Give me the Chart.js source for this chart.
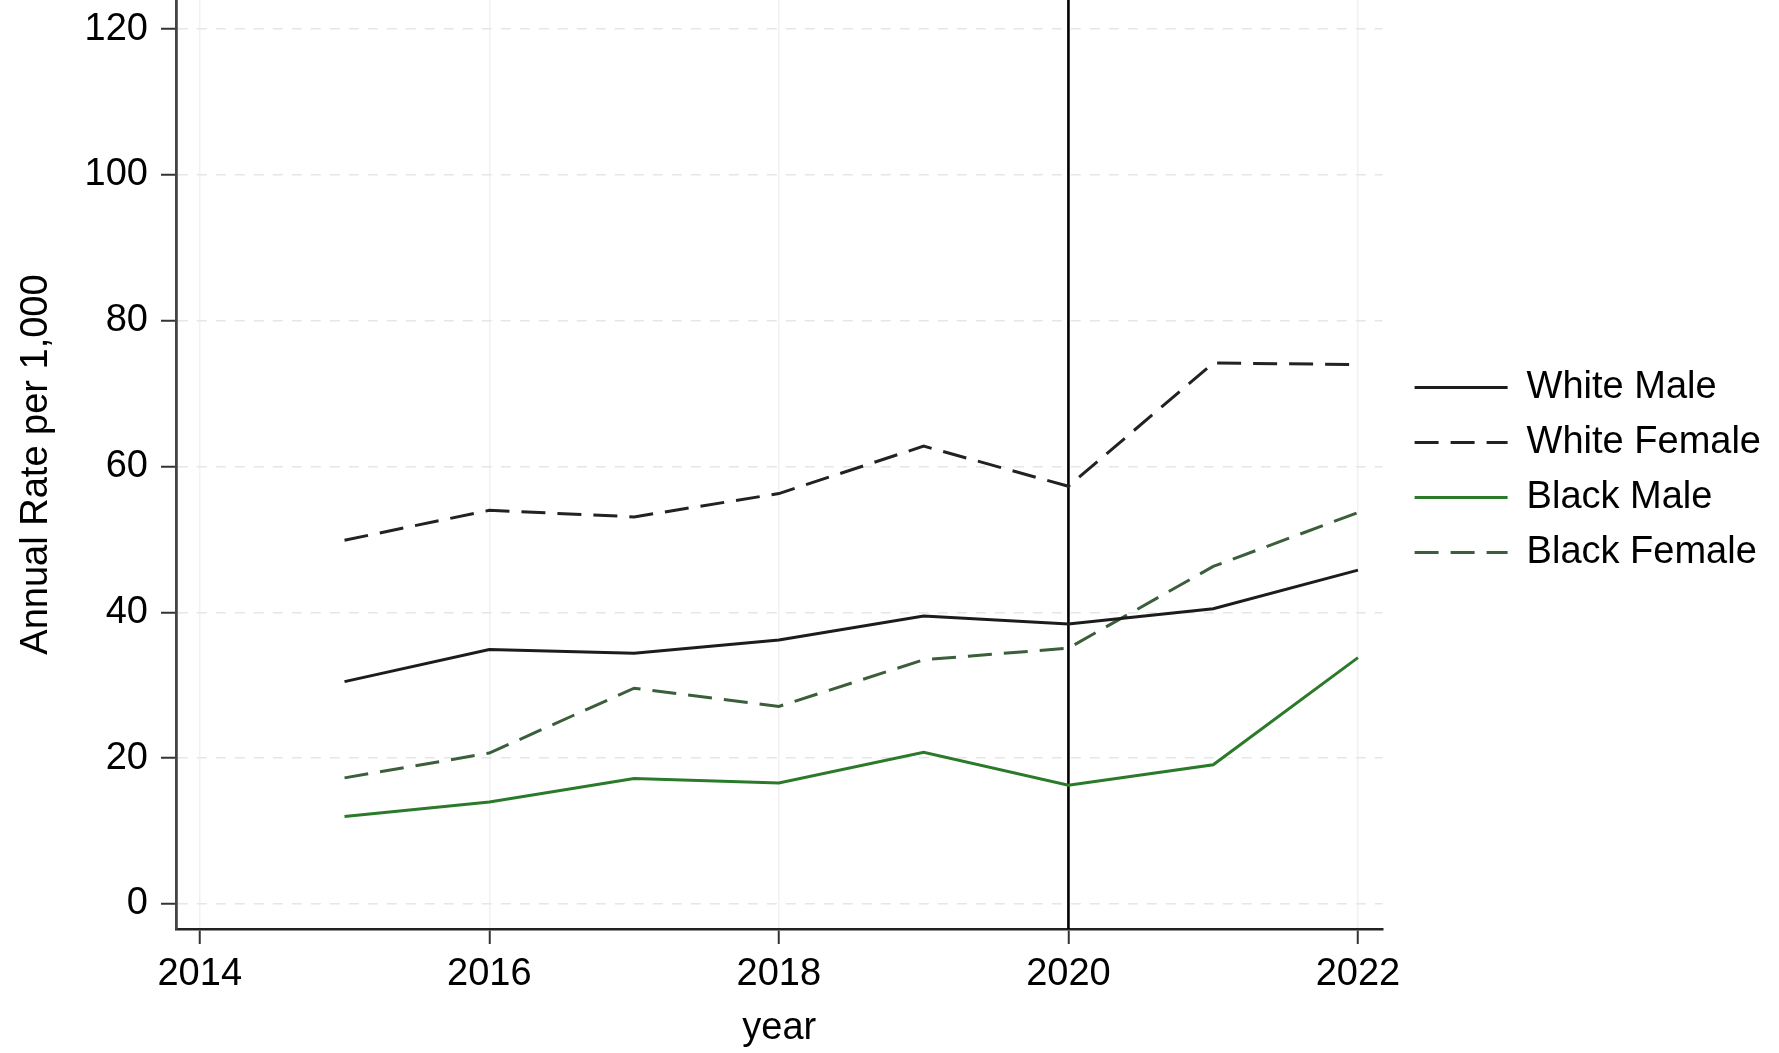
<!DOCTYPE html>
<html>
<head>
<meta charset="utf-8">
<script src="https://cdn.jsdelivr.net/npm/chart.js@4/dist/chart.umd.min.js"></script>
<style>
  html, body { margin: 0; padding: 0; background: #fff; }
  #wrap { width: 1779px; height: 1053px; position: relative; }
</style>
</head>
<body>
<div id="wrap"><canvas id="c" width="1779" height="1053"></canvas></div>
<script>
const years = [2015, 2016, 2017, 2018, 2019, 2020, 2021, 2022];
const whiteMale   = [30.5, 34.9, 34.4, 36.2, 39.5, 38.4, 40.5, 45.8];
const whiteFemale = [49.9, 54.0, 53.1, 56.3, 62.8, 57.3, 74.2, 74.0];
const blackMale   = [12.0, 14.0, 17.2, 16.6, 20.8, 16.3, 19.1, 33.8];
const blackFemale = [17.3, 20.7, 29.6, 27.1, 33.5, 35.1, 46.3, 53.7];
const seriesNames = ['White Male', 'White Female', 'Black Male', 'Black Female'];
const xTicks = [2014, 2016, 2018, 2020, 2022];
const yTicks = [0, 20, 40, 60, 80, 100, 120];
const refYear = 2020;
const xMin = 2013.836, xMax = 2022.17;
const yMin = -3.43, yMax = 124;

const FONT = '"Liberation Sans", Arial, Helvetica, sans-serif';
const pts = arr => years.map((y, i) => ({ x: y, y: arr[i] }));

const datasets = [
  { label: seriesNames[0], data: pts(whiteMale), borderColor: '#1c1c1c', borderWidth: 3 },
  { label: seriesNames[1], data: pts(whiteFemale), borderColor: '#222222', borderWidth: 3, borderDash: [24, 12] },
  { label: seriesNames[2], data: pts(blackMale), borderColor: '#2a7a2a', borderWidth: 3 },
  { label: seriesNames[3], data: pts(blackFemale), borderColor: '#3b5e3b', borderWidth: 3, borderDash: [24, 12] },
  { label: '', data: [{ x: refYear, y: yMin }, { x: refYear, y: yMax }], borderColor: '#000000', borderWidth: 2.6 }
].map(d => Object.assign({ pointRadius: 0, pointHoverRadius: 0, tension: 0, fill: false, pointStyle: 'line' }, d));

const noPad = s => { s.paddingTop = 0; s.paddingBottom = 0; s.paddingLeft = 0; s.paddingRight = 0; };

new Chart(document.getElementById('c'), {
  type: 'line',
  data: { datasets },
  options: {
    responsive: false,
    animation: false,
    layout: { padding: { left: 0, top: 0, right: 8, bottom: 0 } },
    plugins: {
      tooltip: { enabled: false },
      legend: {
        position: 'right',
        align: 'center',
        fullSize: false,
        title: { display: true, text: '', font: { size: 1 }, padding: { top: 10, bottom: 0 } },
        labels: {
          filter: item => item.text !== '',
          usePointStyle: true,
          pointStyle: 'line',
          pointStyleWidth: 93,
          padding: 17,
          color: '#000',
          font: { family: FONT, size: 38 },
          generateLabels: chart => {
            const items = Chart.defaults.plugins.legend.labels.generateLabels(chart);
            items.forEach(it => {
              const ds = chart.data.datasets[it.datasetIndex];
              it.lineDash = ds.borderDash || [];
              it.lineWidth = ds.borderWidth;
              it.strokeStyle = ds.borderColor;
              it.pointStyle = 'line';
            });
            return items;
          }
        }
      }
    },
    scales: {
      x: {
        type: 'linear',
        min: xMin, max: xMax,
        afterFit: s => { s.height = 124; noPad(s); },
        afterBuildTicks: s => { s.ticks = xTicks.map(v => ({ value: v })); },
        ticks: { color: '#000', font: { family: FONT, size: 38 }, padding: 8, maxRotation: 0, autoSkip: false,
                 callback: v => String(v) },
        grid: { color: '#f1f1f1', lineWidth: 1.5, tickLength: 15, tickColor: '#333', tickWidth: 2 },
        border: { color: '#222', width: 2.6 },
        title: { display: true, text: 'year', color: '#000', font: { family: FONT, size: 38 }, padding: { top: 0, bottom: 2 } }
      },
      y: {
        type: 'linear',
        min: yMin, max: yMax,
        afterFit: s => { s.width = 176; noPad(s); },
        afterBuildTicks: s => { s.ticks = yTicks.map(v => ({ value: v })); },
        ticks: { color: '#000', font: { family: FONT, size: 38 }, padding: 13, callback: v => String(v) },
        grid: { color: '#e6e6e6', lineWidth: 1.5, tickLength: 15, tickColor: '#333', tickWidth: 2 },
        border: { color: '#444', width: 2.8, dash: [10, 9] },
        title: { display: true, text: 'Annual Rate per 1,000', color: '#000', font: { family: FONT, size: 38 }, padding: { top: 14, bottom: 0 } }
      },
      gap: {
        type: 'linear',
        position: 'right',
        display: false,
        afterFit: s => { s.width = 15; noPad(s); }
      }
    }
  }
});
</script>
</body>
</html>
